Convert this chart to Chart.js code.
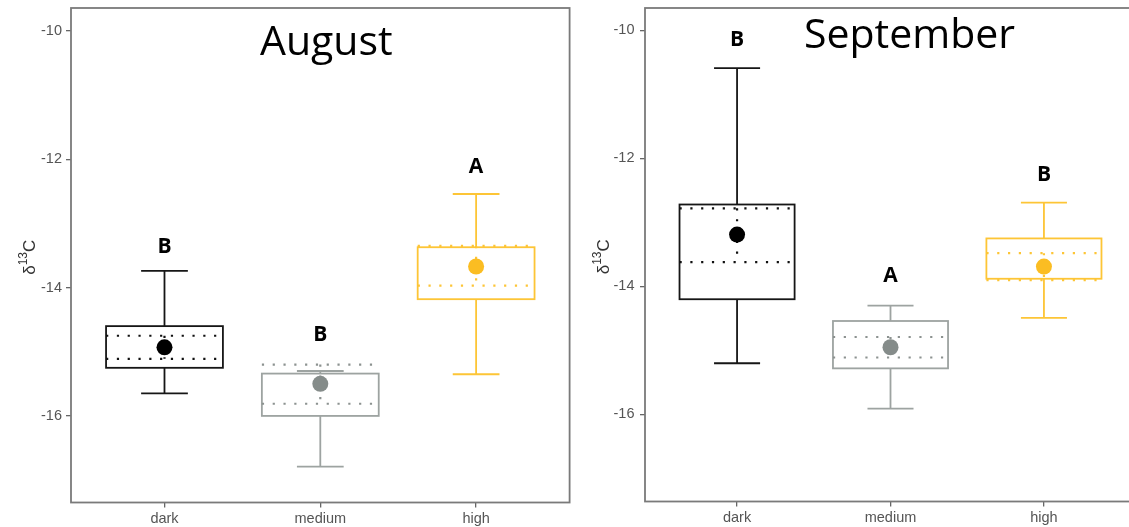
<!DOCTYPE html>
<html>
<head>
<meta charset="utf-8">
<script src="https://cdn.jsdelivr.net/npm/chart.js@4.4.1/dist/chart.umd.min.js"></script>
<style>
html, body { margin: 0; padding: 0; background: #fff; overflow: hidden; }
#wrap { position: relative; width: 1129px; height: 527px; overflow: hidden; }
canvas { position: absolute; top: 0; }
#aug { left: 0; }
#sep { left: 580px; }
</style>
</head>
<body>
<div id="wrap">
    <canvas id="aug" width="580" height="527"></canvas>
    <canvas id="sep" width="564" height="527"></canvas>
</div>
<script>
var categories = ['dark', 'medium', 'high'];
var yTicks = [-16, -14, -12, -10];

// August
var augWhiskerHigh = [-13.74, -15.30, -12.54];
var augQ3 = [-14.60, -15.34, -13.37];
var augQ1 = [-15.25, -16.00, -14.18];
var augWhiskerLow = [-15.65, -16.79, -15.35];
var augMean = [-14.93, -15.50, -13.67];
var augCiHigh = [-14.75, -15.20, -13.35];
var augCiLow = [-15.11, -15.81, -13.97];
var augLetters = ['B', 'B', 'A'];
var augLetterY = [-13.34, -14.72, -12.10];

// September
var sepWhiskerHigh = [-10.59, -14.30, -12.69];
var sepQ3 = [-12.72, -14.54, -13.25];
var sepQ1 = [-14.20, -15.28, -13.88];
var sepWhiskerLow = [-15.20, -15.91, -14.49];
var sepMean = [-13.19, -14.95, -13.69];
var sepCiHigh = [-12.78, -14.79, -13.48];
var sepCiLow = [-13.62, -15.11, -13.90];
var sepLetters = ['B', 'A', 'B'];
var sepLetterY = [-10.12, -13.82, -12.23];

var lineColors = ['#161616', '#9da3a1', '#fdc536'];
var dotColors = ['#111111', '#8c9290', '#fdc536'];
var meanColors = ['#000000', '#858c8a', '#fbbd22'];

var boxPlugin = {
    id: 'boxes',
    beforeDatasetsDraw: function (chart) {
        var o = chart.config.options.plugins.boxes;
        var ctx = chart.ctx;
        var xs = chart.scales.x, ys = chart.scales.y;
        var half = xs.getPixelForValue(1.375) - xs.getPixelForValue(1);
        var capHalf = xs.getPixelForValue(1.15) - xs.getPixelForValue(1);
        ctx.save();
        for (var i = 0; i < categories.length; i++) {
            var cx = xs.getPixelForValue(i + 1);
            var yHi = ys.getPixelForValue(o.hi[i]);
            var yQ3 = ys.getPixelForValue(o.q3[i]);
            var yQ1 = ys.getPixelForValue(o.q1[i]);
            var yLo = ys.getPixelForValue(o.lo[i]);
            ctx.strokeStyle = lineColors[i];
            ctx.lineWidth = 1.8;
            ctx.setLineDash([]);
            // whiskers and caps
            ctx.beginPath();
            ctx.moveTo(cx, yHi); ctx.lineTo(cx, yQ3);
            ctx.moveTo(cx, yQ1); ctx.lineTo(cx, yLo);
            ctx.moveTo(cx - capHalf, yHi); ctx.lineTo(cx + capHalf, yHi);
            ctx.moveTo(cx - capHalf, yLo); ctx.lineTo(cx + capHalf, yLo);
            ctx.stroke();
            // box
            ctx.fillStyle = '#ffffff';
            ctx.fillRect(cx - half, yQ3, half * 2, yQ1 - yQ3);
            ctx.strokeRect(cx - half, yQ3, half * 2, yQ1 - yQ3);
            // dotted interval lines
            var yA = ys.getPixelForValue(o.ciHi[i]);
            var yB = ys.getPixelForValue(o.ciLo[i]);
            ctx.strokeStyle = dotColors[i];
            ctx.lineWidth = 2.2;
            ctx.lineCap = 'butt';
            ctx.setLineDash([2.2, 8.6]);
            ctx.beginPath();
            ctx.moveTo(cx - half, yA); ctx.lineTo(cx + half, yA);
            ctx.moveTo(cx - half, yB); ctx.lineTo(cx + half, yB);
            ctx.moveTo(cx, yA); ctx.lineTo(cx, yB);
            ctx.stroke();
        }
        ctx.restore();
    },
    afterDraw: function (chart) {
        var o = chart.config.options.plugins.boxes;
        var ctx = chart.ctx;
        var xs = chart.scales.x, ys = chart.scales.y;
        var area = chart.chartArea;
        ctx.save();
        // panel frame
        ctx.strokeStyle = '#7a7a7a';
        ctx.lineWidth = 1.8;
        ctx.strokeRect(area.left, area.top, area.right - area.left, area.bottom - area.top);
        // significance letters
        ctx.fillStyle = '#000';
        ctx.font = 'bold 21px "Open Sans"';
        ctx.textAlign = 'center';
        ctx.textBaseline = 'alphabetic';
        for (var i = 0; i < categories.length; i++) {
            ctx.fillText(o.letters[i], xs.getPixelForValue(i + 1), ys.getPixelForValue(o.letterY[i]) + 7.5);
        }
        // month title
        ctx.font = '41px "Open Sans"';
        ctx.fillText(o.title, (area.left + area.right) / 2 + o.titleDx, area.top + o.titleDy);
        // y axis title: delta 13 C
        var cy = (area.top + area.bottom) / 2 + 2;
        var tx = area.left - 41;
        ctx.translate(tx, cy);
        ctx.rotate(-Math.PI / 2);
        ctx.fillStyle = '#333';
        ctx.textAlign = 'left';
        ctx.textBaseline = 'middle';
        ctx.font = '17px "Liberation Sans"';
        var w1 = ctx.measureText('δ').width;
        var w3 = ctx.measureText('C').width;
        ctx.font = '12px "Liberation Sans"';
        var w2 = ctx.measureText('13').width;
        var start = -(w1 + w2 + w3) / 2;
        ctx.font = '17px "Liberation Sans"';
        ctx.fillText('δ', start, 0);
        ctx.font = '12px "Liberation Sans"';
        ctx.fillText('13', start + w1, -6);
        ctx.font = '17px "Liberation Sans"';
        ctx.fillText('C', start + w1 + w2, 0);
        ctx.restore();
    }
};

function noEdgePadding(scale) {
    scale.paddingTop = 0;
    scale.paddingBottom = 0;
    scale.paddingLeft = 0;
    scale.paddingRight = 0;
}

function makePanel(canvasId, yWidth, xHeight, padding, xMax, stats) {
    var means = stats.mean.map(function (v, i) { return { x: i + 1, y: v }; });
    var tickFont = { family: 'Liberation Sans', size: 14.5 };
    new Chart(document.getElementById(canvasId).getContext('2d'), {
        type: 'scatter',
        data: {
            datasets: [{
                data: means,
                pointRadius: 8,
                pointHoverRadius: 8,
                pointBorderWidth: 0,
                pointBackgroundColor: meanColors,
                pointBorderColor: meanColors
            }]
        },
        options: {
            responsive: false,
            animation: false,
            layout: { padding: padding },
            plugins: {
                legend: { display: false },
                tooltip: { enabled: false },
                boxes: stats
            },
            scales: {
                x: {
                    type: 'linear',
                    min: 0.4,
                    max: xMax,
                    afterBuildTicks: function (scale) {
                        scale.ticks = [1, 2, 3].map(function (v) { return { value: v }; });
                    },
                    afterFit: function (scale) { scale.height = xHeight; noEdgePadding(scale); },
                    ticks: {
                        autoSkip: false,
                        maxRotation: 0,
                        padding: 3,
                        color: '#555',
                        font: tickFont,
                        callback: function (value) { return categories[value - 1]; }
                    },
                    grid: { display: true, drawOnChartArea: false, drawTicks: true, tickLength: 5, color: '#666', lineWidth: 1.3 },
                    border: { display: false }
                },
                y: {
                    type: 'linear',
                    min: stats.yMin,
                    max: stats.yMax,
                    afterBuildTicks: function (scale) {
                        scale.ticks = yTicks.map(function (v) { return { value: v }; });
                    },
                    afterFit: function (scale) { scale.width = yWidth; noEdgePadding(scale); },
                    ticks: {
                        padding: stats.tickPad,
                        color: '#555',
                        font: tickFont
                    },
                    grid: { display: true, drawOnChartArea: false, drawTicks: true, tickLength: 5, color: '#666', lineWidth: 1.3 },
                    border: { display: false }
                }
            }
        },
        plugins: [boxPlugin]
    });
}

makePanel('aug', 71, 24.5, { top: 6, right: 10.4, left: 0, bottom: 0 }, 3.6, {
    hi: augWhiskerHigh, q3: augQ3, q1: augQ1, lo: augWhiskerLow,
    mean: augMean, ciHi: augCiHigh, ciLo: augCiLow,
    letters: augLetters, letterY: augLetterY,
    yMin: -17.35, yMax: -9.64, tickPad: 4,
    title: 'August', titleDx: 6, titleDy: 47
});

makePanel('sep', 65, 25.5, { top: 5, right: 0, left: 0, bottom: 0 }, 3.6, {
    hi: sepWhiskerHigh, q3: sepQ3, q1: sepQ1, lo: sepWhiskerLow,
    mean: sepMean, ciHi: sepCiHigh, ciLo: sepCiLow,
    letters: sepLetters, letterY: sepLetterY,
    yMin: -17.36, yMax: -9.65, tickPad: 5.5,
    title: 'September', titleDx: 19, titleDy: 39.5
});
</script>
</body>
</html>
